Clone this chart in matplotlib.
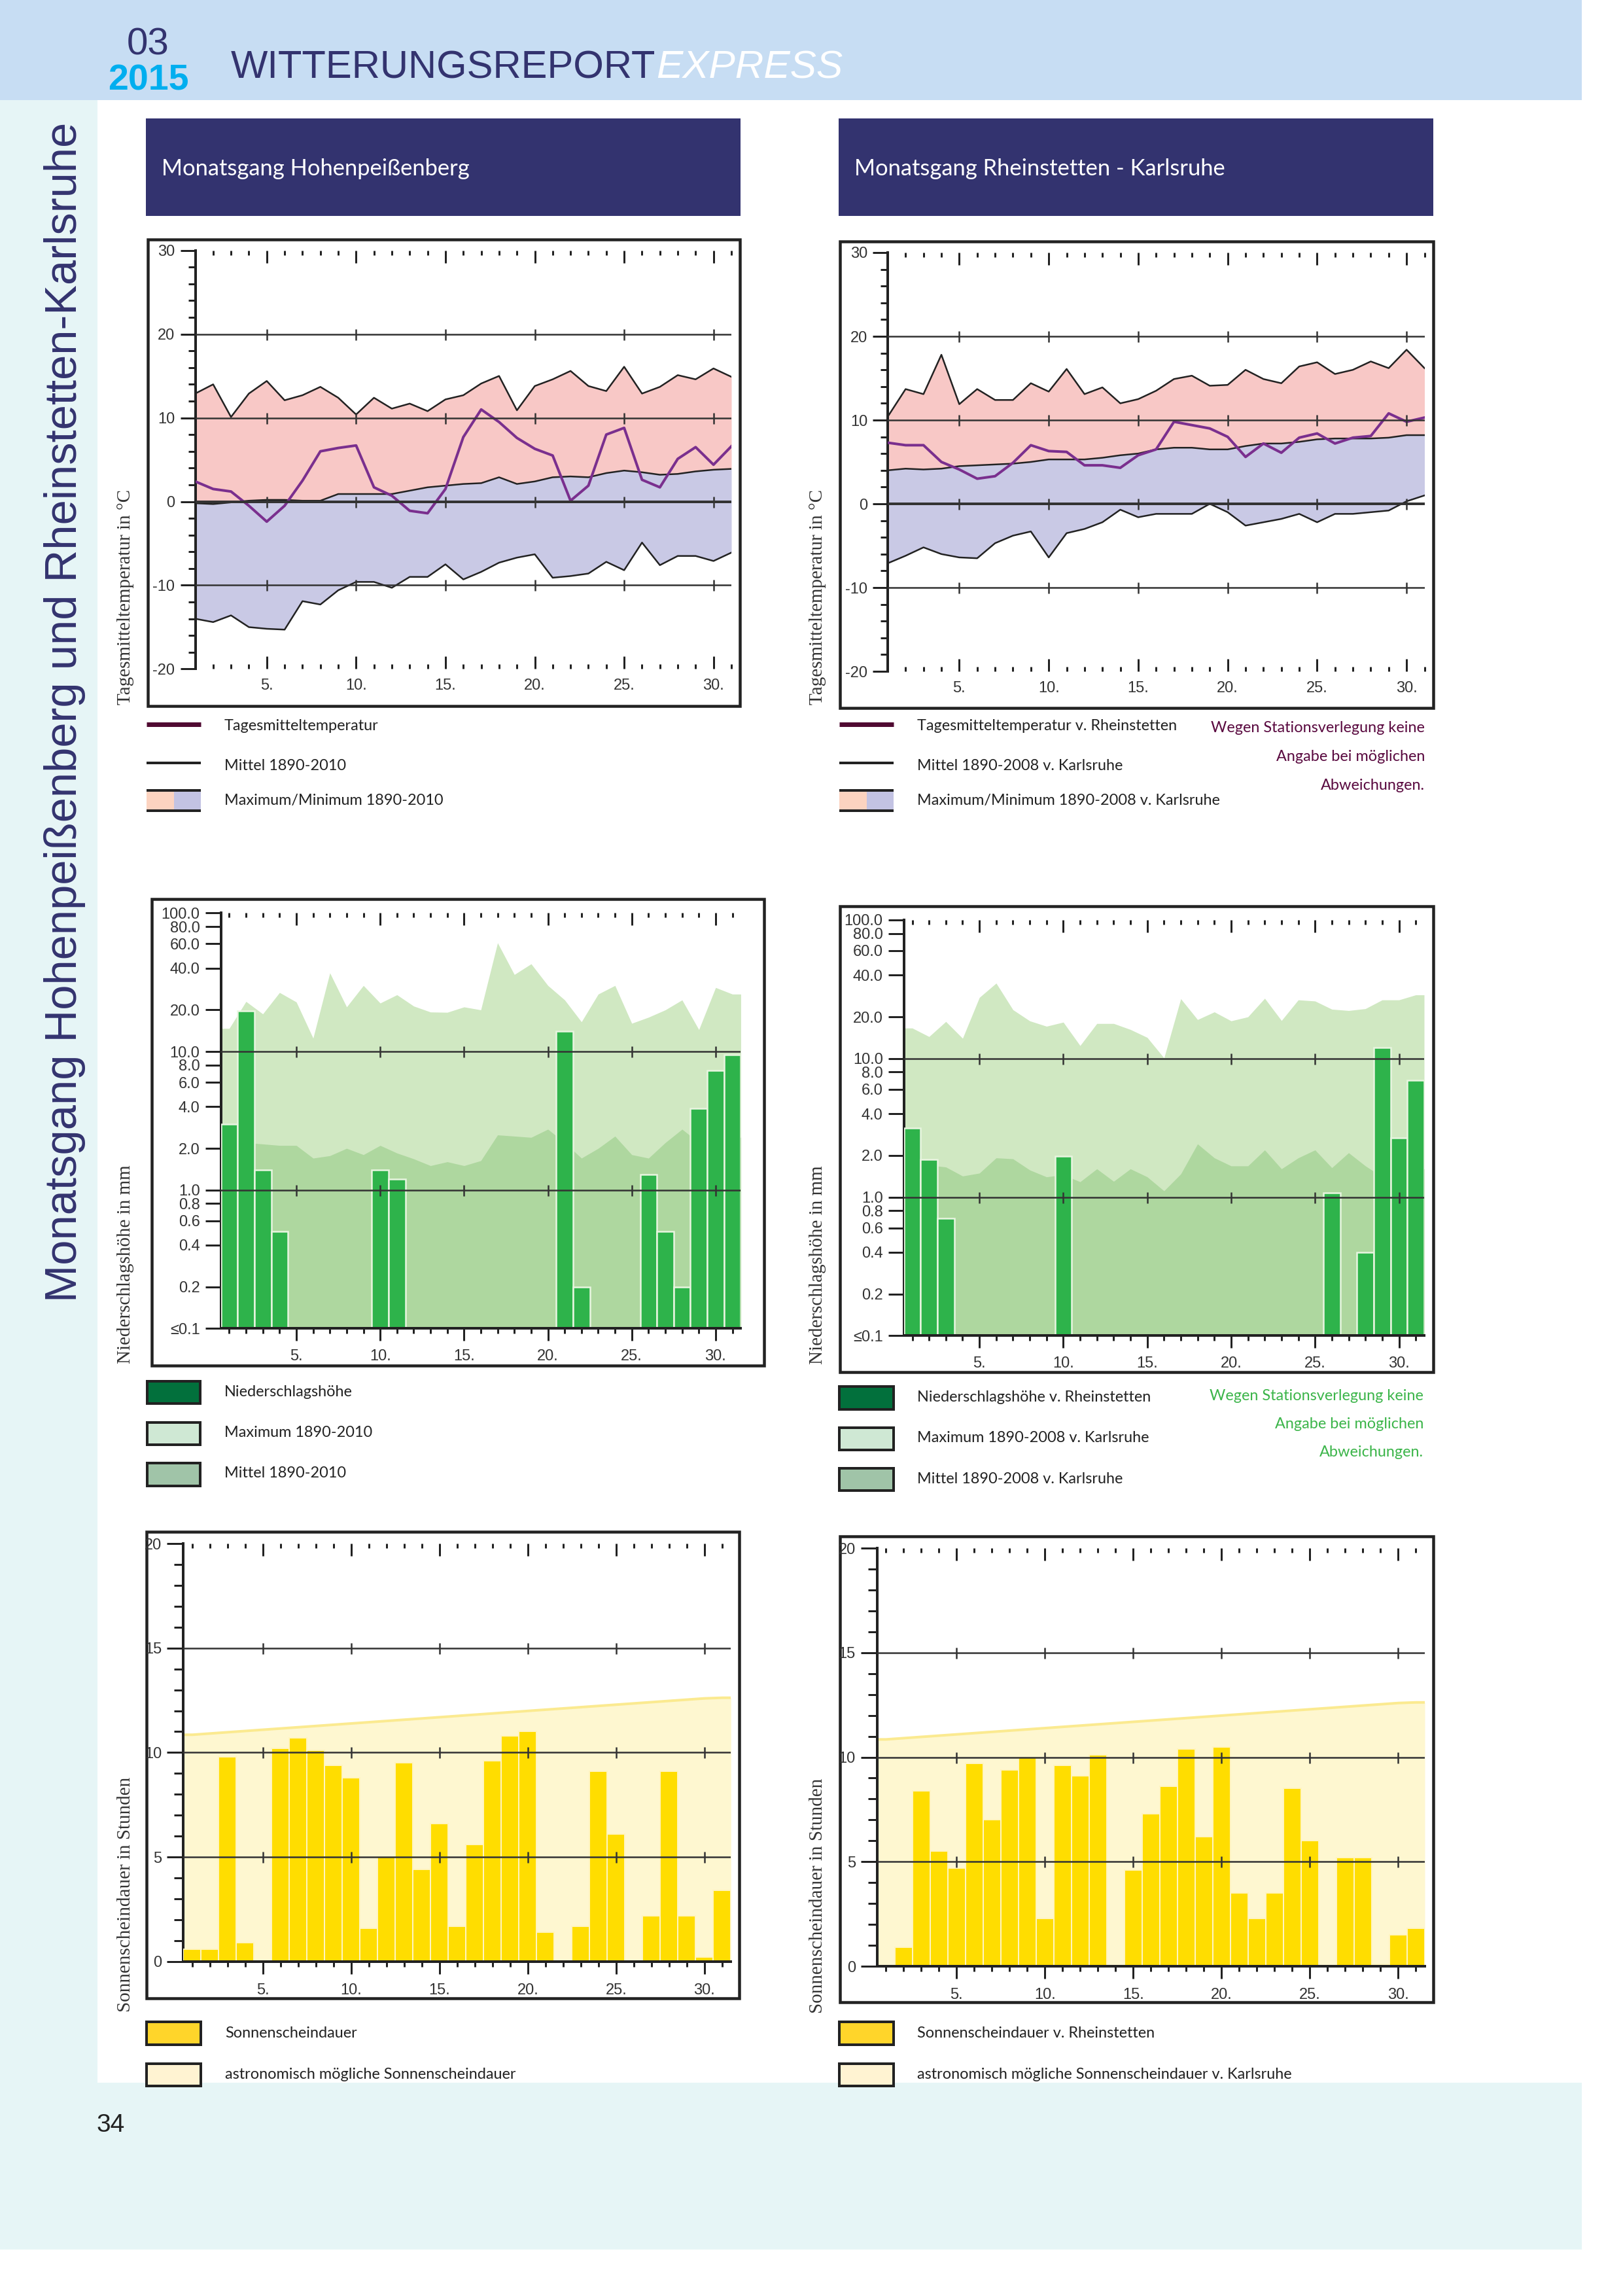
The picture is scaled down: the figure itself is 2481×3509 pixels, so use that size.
"""Monatsgang page: temperature, precipitation, sunshine for two stations."""

import matplotlib
matplotlib.use("Agg")
import matplotlib.pyplot as plt
from matplotlib.patches import Rectangle
from matplotlib.ticker import FixedLocator, NullLocator

W, H = 2481, 3509
DPI = 100

LEGEND_FONT = "Lato"
SANS = "Liberation Sans"
SERIF = "Liberation Serif"

NAVY = "#33336f"
INK = "#222222"

DAYS = list(range(1, 32))
DAY_LABELS = ["5.", "10.", "15.", "20.", "25.", "30."]
DAY_MAJOR = [5, 10, 15, 20, 25, 30]

# Hohenpeissenberg temperature
hp_max = [12.9, 14.0, 10.1, 12.9, 14.4, 12.1, 12.7, 13.7, 12.4, 10.4, 12.4, 11.1, 11.7, 10.8, 12.2, 12.7,
          14.1, 15.0, 10.9, 13.8, 14.6, 15.6, 13.8, 13.2, 16.1, 12.9, 13.7, 15.1, 14.6, 15.9, 14.9]
hp_mean = [-0.2, -0.3, -0.1, 0.1, 0.2, 0.2, 0.1, 0.1, 0.9, 0.9, 0.9, 0.9, 1.3, 1.7, 1.9, 2.1,
           2.2, 2.9, 2.1, 2.4, 2.9, 3.0, 2.9, 3.4, 3.7, 3.5, 3.2, 3.3, 3.6, 3.8, 3.9]
hp_min = [-14.0, -14.4, -13.6, -15.0, -15.2, -15.3, -11.9, -12.3, -10.6, -9.6, -9.6, -10.3, -9.0, -9.0, -7.5, -9.3,
          -8.4, -7.3, -6.7, -6.3, -9.1, -8.9, -8.6, -7.2, -8.2, -4.9, -7.6, -6.5, -6.5, -7.1, -6.1]
hp_day = [2.4, 1.5, 1.2, -0.5, -2.4, -0.5, 2.5, 6.0, 6.4, 6.7, 1.7, 0.7, -1.1, -1.4, 1.5, 7.7,
          11.0, 9.5, 7.6, 6.3, 5.5, 0.1, 1.9, 8.0, 8.8, 2.6, 1.7, 5.1, 6.5, 4.4, 6.6]

# Rheinstetten / Karlsruhe temperature
ka_max = [10.4, 13.7, 13.1, 17.8, 11.9, 13.7, 12.4, 12.4, 14.4, 13.4, 16.1, 13.1, 13.9, 12.0, 12.5, 13.5,
          14.9, 15.3, 14.1, 14.2, 16.0, 14.9, 14.4, 16.4, 16.9, 15.5, 16.0, 17.0, 16.2, 18.4, 16.2]
ka_mean = [4.0, 4.2, 4.1, 4.2, 4.5, 4.6, 4.7, 4.8, 5.0, 5.3, 5.3, 5.3, 5.5, 5.8, 6.0, 6.5,
           6.7, 6.7, 6.5, 6.5, 6.9, 7.2, 7.2, 7.4, 7.7, 7.8, 7.8, 7.8, 7.9, 8.2, 8.2]
ka_min = [-7.1, -6.2, -5.2, -6.0, -6.4, -6.5, -4.7, -3.8, -3.3, -6.4, -3.5, -3.0, -2.2, -0.7, -1.6, -1.2,
          -1.2, -1.2, 0.0, -1.0, -2.6, -2.2, -1.8, -1.2, -2.2, -1.2, -1.2, -1.0, -0.8, 0.3, 1.0]
ka_day = [7.3, 7.0, 7.0, 5.0, 4.1, 3.0, 3.3, 4.9, 7.0, 6.3, 6.2, 4.6, 4.6, 4.3, 5.8, 6.5,
          9.8, 9.4, 9.0, 8.0, 5.6, 7.2, 6.1, 7.9, 8.4, 7.2, 7.9, 8.1, 10.8, 9.8, 10.3]

# precipitation, 0 = no bar
hp_rain_max = [14.7, 23, 18.7, 26.7, 22.8, 12.5, 37, 21, 30, 22.4, 25.7, 21.3, 19.3, 19.2, 21, 20,
               61, 36, 43, 30, 23.6, 16.4, 26, 30, 16, 17.7, 20, 23.6, 14.4, 29, 26]
hp_rain_mean = [2.4, 2.2, 2.15, 2.1, 2.1, 1.7, 1.77, 2.0, 1.8, 2.1, 1.85, 1.68, 1.5, 1.6, 1.5, 1.63,
                2.5, 2.45, 2.4, 2.75, 2.2, 1.7, 2.0, 2.45, 1.8, 1.7, 2.2, 2.75, 2.2, 2.4, 2.4]
hp_rain = [3.0, 19.7, 1.4, 0.5, 0, 0, 0, 0, 0, 1.4, 1.2, 0, 0, 0, 0, 0,
           0, 0, 0, 0, 14, 0.2, 0, 0, 0, 1.3, 0.5, 0.2, 3.9, 7.3, 9.5]

ka_rain_max = [16.6, 14.4, 18.5, 14.0, 27.6, 35, 22.5, 18.7, 17.1, 18.3, 12.4, 17.9, 17.9, 16.2, 14.2, 10.1,
               27, 19.1, 21.7, 18.7, 20, 27.2, 18.8, 26.5, 26, 22.7, 22.2, 22.9, 26.5, 26.5, 28.8]
ka_rain_mean = [1.7, 1.7, 1.65, 1.42, 1.49, 1.92, 1.89, 1.57, 1.4, 1.45, 1.29, 1.6, 1.3, 1.6, 1.4, 1.11,
                1.47, 2.42, 1.92, 1.68, 1.68, 2.19, 1.6, 1.92, 2.19, 1.63, 2.09, 1.68, 1.4, 1.5, 1.6]
ka_rain = [3.16, 1.87, 0.7, 0, 0, 0, 0, 0, 0, 1.97, 0, 0, 0, 0, 0, 0,
           0, 0, 0, 0, 0, 0, 0, 0, 0, 1.08, 0, 0.4, 12, 2.68, 7.0]

# sunshine
sun_possible = [10.85, 10.91, 10.97, 11.03, 11.09, 11.15, 11.21, 11.27, 11.33, 11.39, 11.45, 11.51, 11.57,
                11.63, 11.69, 11.75, 11.81, 11.87, 11.93, 11.99, 12.05, 12.11, 12.17, 12.23, 12.29, 12.35,
                12.41, 12.47, 12.53, 12.59, 12.62]
hp_sun = [0.6, 0.6, 9.8, 0.9, 0, 10.2, 10.7, 10.1, 9.4, 8.8, 1.6, 5.0, 9.5, 4.4, 6.6, 1.7,
          5.6, 9.6, 10.8, 11.0, 1.4, 0, 1.7, 9.1, 6.1, 0, 2.2, 9.1, 2.2, 0.2, 3.4]
ka_sun = [0, 0.9, 8.4, 5.5, 4.7, 9.7, 7.0, 9.4, 10.0, 2.3, 9.6, 9.1, 10.1, 0, 4.6, 7.3,
          8.6, 10.4, 6.2, 10.5, 3.5, 2.3, 3.5, 8.5, 6.0, 0, 5.2, 5.2, 0.1, 1.5, 1.8]

temp_ticks = [30, 20, 10, 0, -10, -20]
temp_minor = [v for v in range(-20, 31, 2) if v not in temp_ticks]
rain_ticks = [100, 80, 60, 40, 20, 10, 8, 6, 4, 2, 1, 0.8, 0.6, 0.4, 0.2, 0.1]
rain_labels = ["100.0", "80.0", "60.0", "40.0", "20.0", "10.0", "8.0", "6.0", "4.0", "2.0",
               "1.0", "0.8", "0.6", "0.4", "0.2", "≤0.1"]
sun_ticks = [20, 15, 10, 5, 0]
sun_minor = [v for v in range(0, 21) if v not in sun_ticks]


def px(v):
    """pixels to points"""
    return v * 72 / DPI


fig = plt.figure(figsize=(W / DPI, H / DPI), dpi=DPI, facecolor="white")
bg = fig.add_axes([0, 0, 1, 1])
bg.set_xlim(0, W)
bg.set_ylim(H, 0)
bg.axis("off")


def rect(x0, y0, x1, y1, fc, ec="none", lw=0, z=1):
    bg.add_patch(Rectangle((x0, y0), x1 - x0, y1 - y0, facecolor=fc, edgecolor=ec, linewidth=lw, zorder=z))


def legend_text(x, y, s, size=16.9, color=INK, ha="left"):
    bg.text(x, y, s, family=LEGEND_FONT, fontsize=size, color=color, ha=ha, va="center", zorder=5)


def make_axes(x0, x1, ytop, ybot):
    ax = fig.add_axes([x0 / W, 1 - ybot / H, (x1 - x0) / W, (ybot - ytop) / H])
    ax.patch.set_alpha(0)
    for s in ["top", "right", "bottom"]:
        ax.spines[s].set_visible(False)
    ax.spines["left"].set_linewidth(px(4))
    ax.spines["left"].set_color(INK)
    return ax


def day_ticks(ax, height, where, minor_len, major_len):
    """day marks along an edge; where=0 bottom, 1 top, lengths in pixels (signed)"""
    trans = ax.get_xaxis_transform()
    minor = [d for d in DAYS if d not in DAY_MAJOR]
    ax.vlines(minor, where, where + minor_len / height, transform=trans, color=INK, lw=px(3),
              clip_on=False, zorder=6)
    ax.vlines(DAY_MAJOR, where, where + major_len / height, transform=trans, color=INK, lw=px(3),
              clip_on=False, zorder=6)


def grid_line(ax, value, lw=2.5):
    ax.axhline(value, color="#333333", lw=px(lw), zorder=5)
    ax.plot(DAY_MAJOR, [value] * len(DAY_MAJOR), ls="none", marker="|", ms=px(17), mew=px(2.5),
            color="#333333", zorder=5, clip_on=False)


def style_labels(labels):
    for t in labels:
        t.set_family(SANS)
        t.set_fontsize(17)
        t.set_color("#333333")


def style_y(ax, ticks, labels, minor, major_len, minor_len):
    ax.set_yticks(ticks, labels=labels)
    ax.yaxis.set_minor_locator(FixedLocator(minor) if minor else NullLocator())
    ax.tick_params(axis="y", which="major", length=px(major_len), width=px(3), pad=px(8), color=INK)
    ax.tick_params(axis="y", which="minor", length=px(minor_len), width=px(3), color=INK)
    style_labels(ax.get_yticklabels())


def style_x(ax, pad):
    ax.set_xticks(DAY_MAJOR, labels=DAY_LABELS)
    ax.xaxis.set_minor_locator(NullLocator())
    ax.tick_params(axis="x", which="major", length=0, pad=px(pad))
    style_labels(ax.get_xticklabels())


def temp_chart(x0, x1, ytop, ybot, tmax, tmean, tmin, tday):
    ax = make_axes(x0, x1, ytop, ybot)
    ax.set_xlim(1, 31)
    ax.set_ylim(-20, 30)
    ax.fill_between(DAYS, tmean, tmax, color="#f8c8c6", lw=0, zorder=1)
    ax.fill_between(DAYS, tmin, tmean, color="#c9c9e5", lw=0, zorder=1)
    ax.plot(DAYS, tmax, color=INK, lw=px(2.5), zorder=3)
    ax.plot(DAYS, tmin, color=INK, lw=px(2.5), zorder=3)
    ax.plot(DAYS, tmean, color=INK, lw=px(2.5), zorder=3)
    ax.plot(DAYS, tday, color="#7a2f8e", lw=px(4), zorder=4)
    style_y(ax, temp_ticks, [str(v) for v in temp_ticks], temp_minor, 23, 11)
    style_x(ax, 15)
    h = ybot - ytop
    day_ticks(ax, h, 1, -7, -19)
    day_ticks(ax, h, 0, 7, 19)
    for v in [20, 10, -10]:
        grid_line(ax, v)
    grid_line(ax, 0, lw=4)
    return ax


def rain_chart(x0, x1, ytop, ybot, rmax, rmean, rain):
    ax = make_axes(x0, x1, ytop, ybot)
    ax.set_yscale("log")
    ax.set_xlim(0.5, 31.5)
    ax.set_ylim(0.1, 100)
    xs = [0.5] + DAYS + [31.5]
    ax.fill_between(xs, 0.1, [rmax[0]] + rmax + [rmax[-1]], color="#d0e8c2", lw=0, zorder=1)
    ax.fill_between(xs, 0.1, [rmean[0]] + rmean + [rmean[-1]], color="#aed79f", lw=0, zorder=2)
    days = [d for d, v in zip(DAYS, rain) if v > 0]
    heights = [v - 0.1 for v in rain if v > 0]
    ax.bar(days, heights, width=1.0, bottom=0.1, color="#2eb34b", edgecolor="#e8f5e0",
           linewidth=px(2.5), zorder=3)
    style_y(ax, rain_ticks, rain_labels, [], 24, 11)
    style_x(ax, 32)
    h = ybot - ytop
    day_ticks(ax, h, 1, -7, -19)
    day_ticks(ax, h, 0, -8, -19)
    for v in [10, 1]:
        grid_line(ax, v)
    ax.axhline(0.1, color=INK, lw=px(4), zorder=6, clip_on=False)
    return ax


def sun_chart(x0, x1, ytop, ybot, possible, sun):
    ax = make_axes(x0, x1, ytop, ybot)
    ax.set_xlim(0.5, 31.5)
    ax.set_ylim(0, 20)
    xs = [0.5] + DAYS + [31.5]
    top = [possible[0]] + possible + [possible[-1]]
    ax.fill_between(xs, 0, top, color="#fef7d0", lw=0, zorder=1)
    ax.plot(xs, top, color="#fbea90", lw=px(4), zorder=2)
    ax.bar(DAYS, sun, width=1.0, color="#ffdd00", edgecolor="#fff4c0", linewidth=px(2), zorder=3)
    style_y(ax, sun_ticks, [str(v) for v in sun_ticks], sun_minor, 25, 14)
    style_x(ax, 33)
    h = ybot - ytop
    day_ticks(ax, h, 1, -7, -19)
    day_ticks(ax, h, 0, -8, -19)
    for v in [15, 10, 5]:
        grid_line(ax, v)
    ax.axhline(0, color=INK, lw=px(4), zorder=6, clip_on=False)
    return ax


# page furniture
rect(0, 0, 2418, 153, "#c7ddf3")
rect(0, 153, 149, 3183, "#e6f5f6")
rect(0, 3183, 2418, 3438, "#e6f5f6")
for x0, x1, title in [(223, 1132, "Monatsgang Hohenpeißenberg"), (1282, 2191, "Monatsgang Rheinstetten - Karlsruhe")]:
    rect(x0, 181, x1, 330, NAVY)
    legend_text(x0 + 24, 258, title, size=24.8, color="white")

bg.text(226, 68, "03", family=SANS, fontsize=42, color=NAVY, ha="center", va="center")
bg.text(227, 124, "2015", family=SANS, fontsize=40, fontweight="bold", color="#00aeef", ha="center", va="center")
bg.text(353, 119, "WITTERUNGSREPORT", family=SANS, fontsize=43, color=NAVY, ha="left", va="baseline")
bg.text(1003, 119, "EXPRESS", family=SANS, fontsize=43.5, style="italic", color="white", ha="left", va="baseline")
bg.text(117, 1990, "Monatsgang Hohenpeißenberg und Rheinstetten-Karlsruhe", family=SANS, fontsize=49.5,
        color=NAVY, rotation=90, ha="left", va="baseline", rotation_mode="anchor")
bg.text(148, 3248, "34", family=SANS, fontsize=28, color=INK, ha="left", va="center")

# frames
for x0, y0, x1, y1 in [(226, 366, 1131, 1079), (1284, 369, 2191, 1082), (232, 1374, 1168, 2087),
                       (1284, 1385, 2191, 2097), (224, 2341, 1130, 3054), (1284, 2348, 2191, 3060)]:
    rect(x0, y0, x1, y1, "white", ec=INK, lw=px(4.5), z=2)

temp_chart(298.5, 1118, 382.7, 1022.4, hp_max, hp_mean, hp_min, hp_day)
temp_chart(1357, 2177.5, 386, 1026, ka_max, ka_mean, ka_min, ka_day)
rain_chart(337.6, 1132.4, 1395.5, 2030.4, hp_rain_max, hp_rain_mean, hp_rain)
rain_chart(1381.7, 2177, 1406, 2041.4, ka_rain_max, ka_rain_mean, ka_rain)
sun_chart(280.3, 1117.3, 2359, 2997.8, sun_possible, hp_sun)
sun_chart(1340.9, 2178, 2366, 3005, sun_possible, ka_sun)

# rotated axis titles
for x, y, s in [(192, 1077, "Tagesmitteltemperatur in °C"), (1250, 1077, "Tagesmitteltemperatur in °C"),
                (192, 2084, "Niederschlagshöhe in mm"), (1250, 2085, "Niederschlagshöhe in mm"),
                (192, 3075, "Sonnenscheindauer in Stunden"), (1250, 3077, "Sonnenscheindauer in Stunden")]:
    bg.text(x, y, s, family=SERIF, fontsize=21, color="#333333", rotation=90, ha="left", va="center",
            rotation_mode="anchor", zorder=6)


def temp_legend(x0, x1, tx, rows):
    bg.plot([x0, x1], [1107, 1107], color="#500a32", lw=px(7), solid_capstyle="butt", zorder=5)
    bg.plot([x0, x1], [1166, 1166], color=INK, lw=px(4), solid_capstyle="butt", zorder=5)
    mid = x0 + (x1 - x0) * 0.505
    rect(x0, 1209, mid, 1238, "#fcd3c0", z=5)
    rect(mid, 1209, x1, 1238, "#c3c3e3", z=5)
    rect(x0, 1206, x1, 1210, INK, z=5)
    rect(x0, 1237, x1, 1241, INK, z=5)
    for y, s in zip([1109, 1170, 1223], rows):
        legend_text(tx, y, s)


def boxes(x0, x1, spans, colors, tx, ys, rows):
    for (y0, y1), c in zip(spans, colors):
        rect(x0, y0, x1, y1, c, ec=INK, lw=px(4), z=5)
    for y, s in zip(ys, rows):
        legend_text(tx, y, s)


temp_legend(224, 307, 343, ["Tagesmitteltemperatur", "Mittel 1890-2010", "Maximum/Minimum 1890-2010"])
temp_legend(1283, 1366, 1402, ["Tagesmitteltemperatur v. Rheinstetten", "Mittel 1890-2008 v. Karlsruhe",
                               "Maximum/Minimum 1890-2008 v. Karlsruhe"])
rain_colors = ["#02703c", "#cfe8d4", "#a0c4a8"]
boxes(225, 306, [(2111, 2145), (2174, 2208), (2236, 2271)], rain_colors, 343, [2127, 2189, 2251],
      ["Niederschlagshöhe", "Maximum 1890-2010", "Mittel 1890-2010"])
boxes(1283, 1366, [(2119, 2154), (2182, 2216), (2244, 2278)], rain_colors, 1402, [2135, 2197, 2260],
      ["Niederschlagshöhe v. Rheinstetten", "Maximum 1890-2008 v. Karlsruhe", "Mittel 1890-2008 v. Karlsruhe"])
sun_colors = ["#ffd52a", "#fff3d2"]
boxes(224, 307, [(3090, 3125), (3154, 3188)], sun_colors, 344, [3107, 3170],
      ["Sonnenscheindauer", "astronomisch mögliche Sonnenscheindauer"])
boxes(1283, 1366, [(3090, 3125), (3154, 3188)], sun_colors, 1402, [3107, 3170],
      ["Sonnenscheindauer v. Rheinstetten", "astronomisch mögliche Sonnenscheindauer v. Karlsruhe"])

note = ["Wegen Stationsverlegung keine", "Angabe bei möglichen", "Abweichungen."]
for y, s in zip([1112, 1156, 1200], note):
    legend_text(2178, y, s, color="#5a0a40", ha="right")
for y, s in zip([2133, 2176, 2219], note):
    legend_text(2176, y, s, color="#3cb54a", ha="right")

fig.savefig("out.png", dpi=DPI, facecolor="white")
